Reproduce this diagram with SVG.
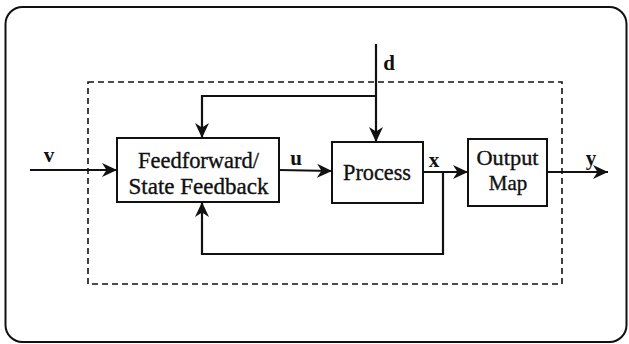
<svg xmlns="http://www.w3.org/2000/svg" width="629" height="344" viewBox="0 0 629 344">
  <style>
    .frame { fill: none; stroke: #111; stroke-width: 2; }
    .boundary { fill: none; stroke: #111; stroke-width: 1.6; stroke-dasharray: 6 4; }
    .box { fill: #fff; stroke: #111; stroke-width: 2; }
    .wire { fill: none; stroke: #111; stroke-width: 2.2; }
    .label { font-family: "Liberation Serif", "Times New Roman", serif; font-size: 22.5px; fill: #111; stroke: #111; stroke-width: 0.35; text-anchor: middle; }
    .small { font-size: 21px; }
    .sig { font-family: "Liberation Serif", "Times New Roman", serif; font-size: 21px; font-weight: bold; fill: #111; text-anchor: middle; }
  </style>
  <defs>
    <marker id="arrow" markerUnits="userSpaceOnUse" markerWidth="18" markerHeight="16" refX="15" refY="7" orient="auto">
      <path d="M0,0 L15,7 L0,14 L4.5,7 z" fill="#111"/>
    </marker>
  </defs>

  <rect width="629" height="344" fill="#fff"/>

  <!-- outer frame -->
  <rect class="frame" x="5.5" y="7" width="621" height="335" rx="17" ry="17"/>

  <!-- system boundary -->
  <rect class="boundary" x="88" y="82" width="474" height="202"/>

  <g id="connectors">
    <path class="wire" d="M30,170 L117,170" marker-end="url(#arrow)"/>
    <path class="wire" d="M279,170 L332,171" marker-end="url(#arrow)"/>
    <path class="wire" d="M376,44 L376,142" marker-end="url(#arrow)"/>
    <path class="wire" d="M376,96 L202,96 L202,138" marker-end="url(#arrow)"/>
    <path class="wire" d="M423,172 L468,172" marker-end="url(#arrow)"/>
    <path class="wire" d="M443,172 L443,254 L202,254 L202,202" marker-end="url(#arrow)"/>
    <path class="wire" d="M547,172 L608,172" marker-end="url(#arrow)"/>
  </g>

  <g id="feedforward">
    <rect class="box" x="117" y="138" width="162" height="64"/>
    <text class="label" x="198.5" y="167.5" textLength="121" lengthAdjust="spacingAndGlyphs">Feedforward/</text>
    <text class="label" x="198.5" y="193.5" textLength="140" lengthAdjust="spacingAndGlyphs">State Feedback</text>
  </g>

  <g id="process">
    <rect class="box" x="332" y="142" width="91" height="61"/>
    <text class="label" x="377" y="180" textLength="68" lengthAdjust="spacingAndGlyphs">Process</text>
  </g>

  <g id="output-map">
    <rect class="box" x="468" y="139" width="79" height="67"/>
    <text class="label small" x="507.5" y="165" textLength="62" lengthAdjust="spacingAndGlyphs">Output</text>
    <text class="label small" x="508" y="190">Map</text>
  </g>

  <g id="signals">
    <text class="sig" x="49" y="162">v</text>
    <text class="sig" x="296" y="165">u</text>
    <text class="sig" x="389" y="70">d</text>
    <text class="sig" x="434" y="167">x</text>
    <text class="sig" x="591" y="165">y</text>
  </g>
</svg>
